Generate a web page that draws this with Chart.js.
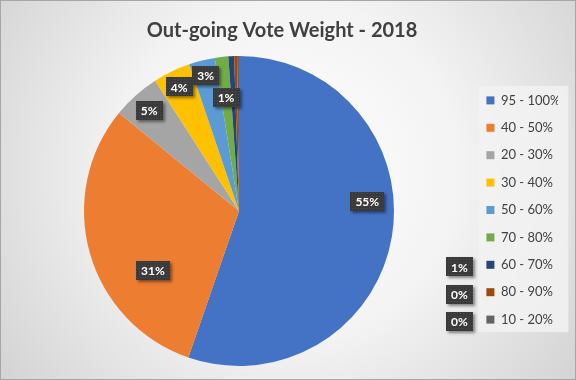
<!DOCTYPE html>
<html>
<head>
<meta charset="utf-8">
<script src="https://cdn.jsdelivr.net/npm/chart.js@4/dist/chart.umd.min.js"></script>
<style>
  html, body { margin: 0; padding: 0; background: #ffffff; }
  #wrap { width: 576px; height: 380px; position: relative; }
  canvas { display: block; }
</style>
</head>
<body>
<div id="wrap"><canvas id="c" width="576" height="380"></canvas></div>
<script>
// ---- data ----
const categories = ["95 - 100%", "40 - 50%", "20 - 30%", "30 - 40%", "50 - 60%", "70 - 80%", "60 - 70%", "80 - 90%", "10 - 20%"];
const shares = [55.3, 30.6, 5.0, 3.9, 2.7, 1.4, 0.6, 0.3, 0.2];
const sliceColors = ["#4472C4", "#ED7D31", "#A5A5A5", "#FFC000", "#5B9BD5", "#70AD47", "#264478", "#9E480E", "#636363"];
const chartTitle = "Out-going Vote Weight - 2018";

// label placement along each slice: fraction of the slice's angular span, fraction of radius
const labelSpan = [0.43, 0.33, 0.5, 0.5, 0.5, 0.5];
const labelRad  = [0.83, 0.675, 0.87, 0.89, 0.9, 0.74];

const bgPlugin = {
  id: 'bg',
  beforeDraw(chart) {
    const ctx = chart.ctx, w = chart.width, h = chart.height;
    ctx.save();
    const g = ctx.createRadialGradient(290, 170, 0, 290, 170, 380);
    g.addColorStop(0, '#ffffff');
    g.addColorStop(0.45, '#f3f3f3');
    g.addColorStop(1, '#cfcfcf');
    ctx.fillStyle = g;
    ctx.fillRect(0, 0, w, h);
    ctx.strokeStyle = '#a6a6a6';
    ctx.lineWidth = 1;
    ctx.strokeRect(0.5, 0.5, w - 1, h - 1);
    // legend background
    const lg = chart.legend;
    if (lg && lg.legendHitBoxes && lg.legendHitBoxes.length) {
      const hb = lg.legendHitBoxes;
      const top = hb[0].top - 8, bot = hb[hb.length - 1].top + hb[hb.length - 1].height + 6;
      ctx.fillStyle = 'rgba(242,242,242,0.85)';
      ctx.fillRect(hb[0].left - 8, top, 90, bot - top);
    }
    ctx.restore();
  }
};

function makePattern(ctx) {
  const p = document.createElement('canvas');
  p.width = 3; p.height = 3;
  const pc = p.getContext('2d');
  pc.fillStyle = '#3a3a3a';
  pc.fillRect(0, 0, 3, 3);
  pc.fillStyle = '#4d4d4d';
  pc.fillRect(1, 1, 1, 1);
  return ctx.createPattern(p, 'repeat');
}

function drawTag(ctx, text, cx, cy, pattern) {
  ctx.font = 'bold 12px Lato';
  const tw = ctx.measureText(text).width;
  const bw = Math.round(tw + 10), bh = 19;
  const x = Math.round(cx - bw / 2), y = Math.round(cy - bh / 2);
  ctx.save();
  ctx.shadowColor = 'rgba(0,0,0,0.45)';
  ctx.shadowBlur = 3;
  ctx.shadowOffsetX = 2;
  ctx.shadowOffsetY = 2;
  ctx.fillStyle = pattern;
  ctx.fillRect(x, y, bw, bh);
  ctx.restore();
  ctx.fillStyle = '#ffffff';
  ctx.textAlign = 'center';
  ctx.textBaseline = 'middle';
  ctx.fillText(text, cx, cy + 1);
}

const labelPlugin = {
  id: 'tags',
  afterDraw(chart) {
    const ctx = chart.ctx;
    const meta = chart.getDatasetMeta(0);
    const total = shares.reduce((a, b) => a + b, 0);
    const pattern = makePattern(ctx);
    const lg = chart.legend;
    ctx.save();
    meta.data.forEach((arc, i) => {
      const pct = shares[i] / total * 100;
      const text = Math.round(pct) + '%';
      let cx, cy;
      if (pct < 1 && lg && lg.legendHitBoxes) {
        const hb = lg.legendHitBoxes[i];
        cx = hb.left - 27;
        cy = hb.top + hb.height / 2 + 2;
      } else {
        const p = arc.getProps(['x', 'y', 'startAngle', 'endAngle', 'outerRadius'], true);
        const a = p.startAngle + (p.endAngle - p.startAngle) * labelSpan[i];
        const r = p.outerRadius * labelRad[i];
        cx = p.x + Math.cos(a) * r;
        cy = p.y + Math.sin(a) * r;
      }
      drawTag(ctx, text, cx, cy, pattern);
    });
    ctx.restore();
  }
};

new Chart(document.getElementById('c'), {
  type: 'pie',
  data: {
    labels: categories,
    datasets: [{
      data: shares,
      backgroundColor: sliceColors,
      borderWidth: 0
    }]
  },
  options: {
    responsive: false,
    animation: false,
    layout: { padding: { left: 6, right: 18, top: 4, bottom: 14 } },
    plugins: {
      title: {
        display: true,
        text: chartTitle,
        color: '#404040',
        font: { family: 'Lato', size: 20, weight: 'bold' },
        padding: { top: 15, bottom: 13 }
      },
      legend: {
        position: 'right',
        maxWidth: 86,
        title: {
          display: true,
          text: '',
          font: { family: 'Lato', size: 10 },
          padding: { top: 38, bottom: 0 }
        },
        labels: {
          color: '#404040',
          font: { family: 'Lato', size: 13 },
          boxWidth: 8,
          boxHeight: 8,
          padding: 14.4
        }
      },
      tooltip: { enabled: false }
    }
  },
  plugins: [bgPlugin, labelPlugin]
});
</script>
</body>
</html>
